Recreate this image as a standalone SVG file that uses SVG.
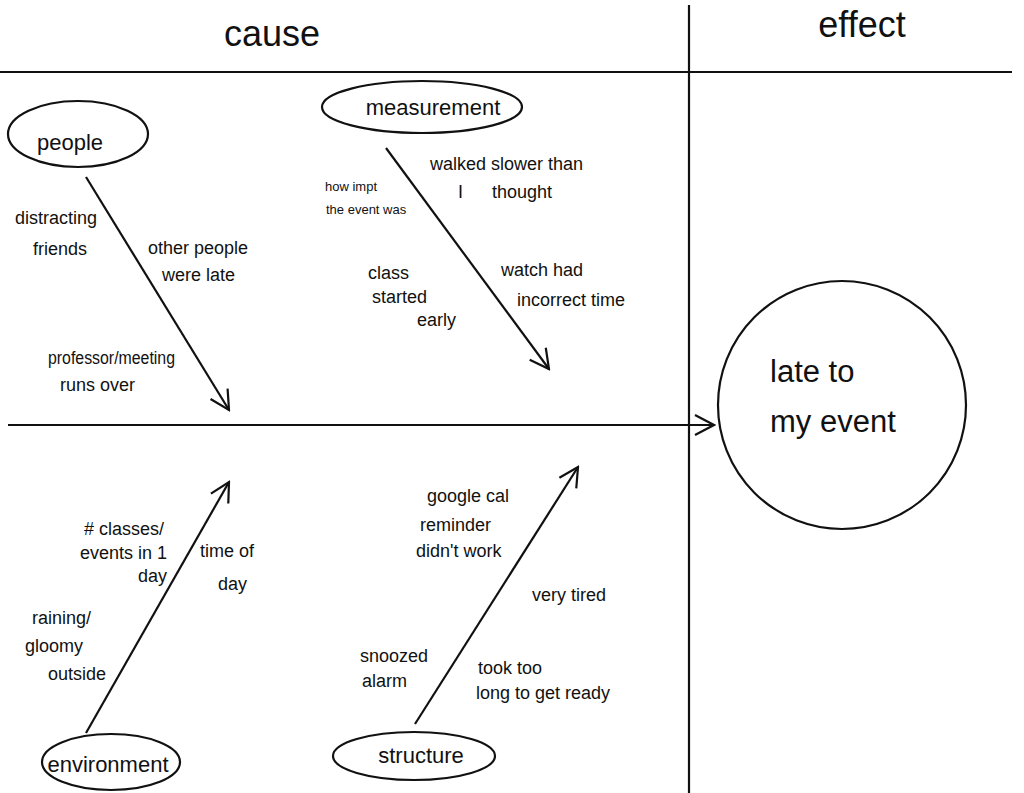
<svg xmlns="http://www.w3.org/2000/svg" width="1024" height="793" viewBox="0 0 1024 793">
<style>
text{font-family:"Liberation Sans","DejaVu Sans",sans-serif;fill:#111}
.frame{stroke:#111;stroke-width:2.2;fill:none}
.bone{stroke:#111;stroke-width:2.2;fill:none;marker-end:url(#chev)}
.oval{stroke:#111;stroke-width:2.2;fill:#fff}
.lbl{font-size:18px}
.sm{font-size:13px}
.head{font-size:36px}
.cat{font-size:22px}
</style>
<defs>
<marker id="chev" markerUnits="userSpaceOnUse" viewBox="0 0 24 24" markerWidth="24" markerHeight="24" refX="22" refY="12" orient="auto">
<path d="M3,2 L22,12 L3,22" fill="none" stroke="#111" stroke-width="2.2"/>
</marker>
</defs>
<rect width="1024" height="793" fill="#fff"/>
<g id="frame">
<line class="frame" x1="0" y1="72" x2="1012" y2="72"/>
<line class="frame" x1="689" y1="5" x2="689" y2="793"/>
<text class="head" x="272" y="46" text-anchor="middle">cause</text>
<text class="head" x="862" y="37" text-anchor="middle">effect</text>
</g>
<g id="connectors">
<line class="bone" x1="8" y1="425" x2="714" y2="425"/>
<line class="bone" x1="86" y1="177" x2="229" y2="410"/>
<line class="bone" x1="386" y1="148" x2="549" y2="369"/>
<line class="bone" x1="86" y1="733" x2="229" y2="482"/>
<line class="bone" x1="415" y1="724" x2="578" y2="467"/>
</g>
<g id="effect-node">
<circle class="oval" cx="842" cy="405" r="124"/>
<text font-size="31" x="770" y="382">late to</text>
<text font-size="31" x="770" y="432">my event</text>
</g>
<g id="people">
<ellipse class="oval" cx="78" cy="134" rx="70" ry="33"/>
<text class="cat" x="70" y="150" text-anchor="middle" font-size="24">people</text>
</g>
<g id="people-causes">
<text class="lbl" x="15" y="224">distracting</text>
<text class="lbl" x="33" y="255">friends</text>
<text class="lbl" x="148" y="254">other people</text>
<text class="lbl" x="162" y="281">were late</text>
<text class="lbl" x="48" y="364" font-size="16" textLength="127" lengthAdjust="spacingAndGlyphs">professor/meeting</text>
<text class="lbl" x="60" y="391">runs over</text>
</g>
<g id="measurement">
<ellipse class="oval" cx="422" cy="107" rx="100" ry="26"/>
<text class="cat" x="433" y="115" text-anchor="middle">measurement</text>
</g>
<g id="measurement-causes">
<text class="sm" x="325" y="191">how impt</text>
<text class="sm" x="326" y="214">the event was</text>
<text class="lbl" x="430" y="170" font-size="19">walked slower than</text>
<text class="lbl" x="458" y="198" font-size="19">I</text>
<text class="lbl" x="492" y="198" font-size="19">thought</text>
<text class="lbl" x="368" y="279">class</text>
<text class="lbl" x="372" y="303">started</text>
<text class="lbl" x="417" y="326">early</text>
<text class="lbl" x="501" y="276" font-size="19">watch had</text>
<text class="lbl" x="517" y="306" font-size="19">incorrect time</text>
</g>
<g id="environment">
<ellipse class="oval" cx="111" cy="762" rx="69" ry="28"/>
<text class="cat" x="108" y="772" text-anchor="middle" font-size="20">environment</text>
</g>
<g id="environment-causes">
<text class="lbl" x="84" y="535" font-size="17">#  classes/</text>
<text class="lbl" x="80" y="559" font-size="17">events in 1</text>
<text class="lbl" x="138" y="582" font-size="17">day</text>
<text class="lbl" x="200" y="557" font-size="20">time of</text>
<text class="lbl" x="218" y="590" font-size="20">day</text>
<text class="lbl" x="32" y="624">raining/</text>
<text class="lbl" x="25" y="652">gloomy</text>
<text class="lbl" x="48" y="680">outside</text>
</g>
<g id="structure">
<ellipse class="oval" cx="414" cy="756" rx="81" ry="24"/>
<text class="cat" x="421" y="763" text-anchor="middle">structure</text>
</g>
<g id="structure-causes">
<text class="lbl" x="427" y="502">google cal</text>
<text class="lbl" x="420" y="531">reminder</text>
<text class="lbl" x="416" y="557">didn't work</text>
<text class="lbl" x="532" y="601">very tired</text>
<text class="lbl" x="360" y="662" font-size="17">snoozed</text>
<text class="lbl" x="362" y="687" font-size="17">alarm</text>
<text class="lbl" x="478" y="674" font-size="17">took too</text>
<text class="lbl" x="476" y="699" font-size="18">long to get ready</text>
</g>
</svg>
